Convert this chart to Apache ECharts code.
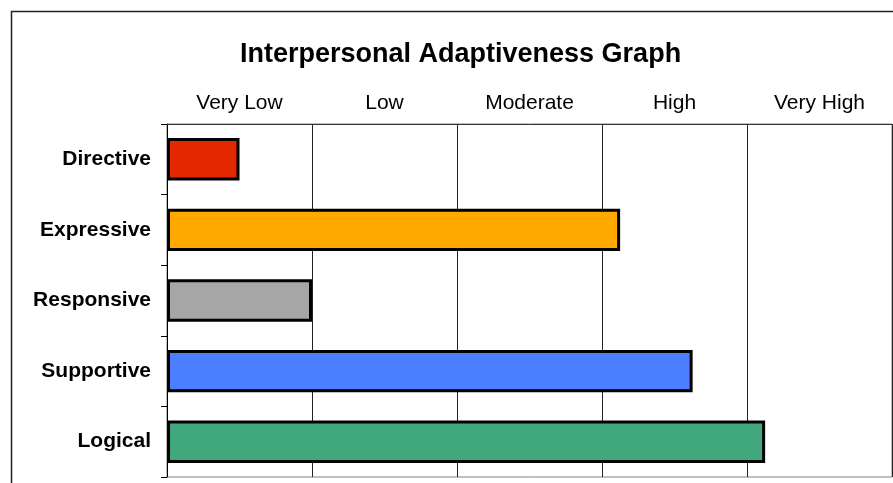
<!DOCTYPE html>
<html>
<head>
<meta charset="utf-8">
<script src="https://cdn.jsdelivr.net/npm/echarts@6/dist/echarts.min.js"></script>
<style>
html,body{margin:0;padding:0;background:#fff;}
#chart{width:893px;height:483px;}
</style>
</head>
<body>
<div id="chart"></div>
<script>
const categories = ['Directive', 'Expressive', 'Responsive', 'Supportive', 'Logical'];
const values = [0.5, 3.125, 1, 3.625, 4.125];
const barColors = ['#E62800', '#FFA800', '#A6A6A6', '#4A80FF', '#40A87C'];
const levelLabels = ['Very Low', 'Low', 'Moderate', 'High', 'Very High'];

const chart = echarts.init(document.getElementById('chart'));
chart.setOption({
  animation: false,
  backgroundColor: '#fff',
  title: {
    text: 'Interpersonal Adaptiveness Graph',
    left: 240, top: 41, padding: 0,
    textStyle: { fontFamily: 'Liberation Sans, Arial, sans-serif', fontSize: 27, fontWeight: 'bold', color: '#000' }
  },
  graphic: [{
    type: 'rect', silent: true, z: 100,
    shape: { x: 11.5, y: 11.5, width: 1000, height: 1000 },
    style: { fill: 'none', stroke: '#222', lineWidth: 1.5 }
  }],
  grid: { left: 167, right: 1, top: 124, bottom: 6, show: true, borderColor: '#808080', borderWidth: 1 },
  xAxis: [{
    type: 'value', min: 0, max: 5, interval: 1, position: 'bottom',
    axisLine: { show: false }, axisTick: { show: false }, axisLabel: { show: false },
    splitLine: { show: true, lineStyle: { color: '#222', width: 1 } }
  }, {
    type: 'category', position: 'top', data: levelLabels, boundaryGap: true,
    axisLine: { show: true, lineStyle: { color: '#333', width: 1 } },
    axisTick: { show: false }, splitLine: { show: false },
    axisLabel: { fontFamily: 'Liberation Sans, Arial, sans-serif', fontSize: 21, color: '#000', margin: 10 }
  }],
  yAxis: {
    type: 'category', data: categories, inverse: true,
    axisLine: { show: true, lineStyle: { color: '#000', width: 1 } },
    axisTick: { show: true, length: 6, lineStyle: { color: '#000' } },
    axisLabel: { fontFamily: 'Liberation Sans, Arial, sans-serif', fontSize: 21, fontWeight: 'bold', color: '#000', margin: 16 }
  },
  series: [{
    type: 'bar', xAxisIndex: 0,
    barCategoryGap: '40%',
    data: values.map((v, i) => ({ value: v, itemStyle: { color: barColors[i] } })),
    itemStyle: { borderColor: '#000', borderWidth: 3 }
  }]
});
</script>
</body>
</html>
